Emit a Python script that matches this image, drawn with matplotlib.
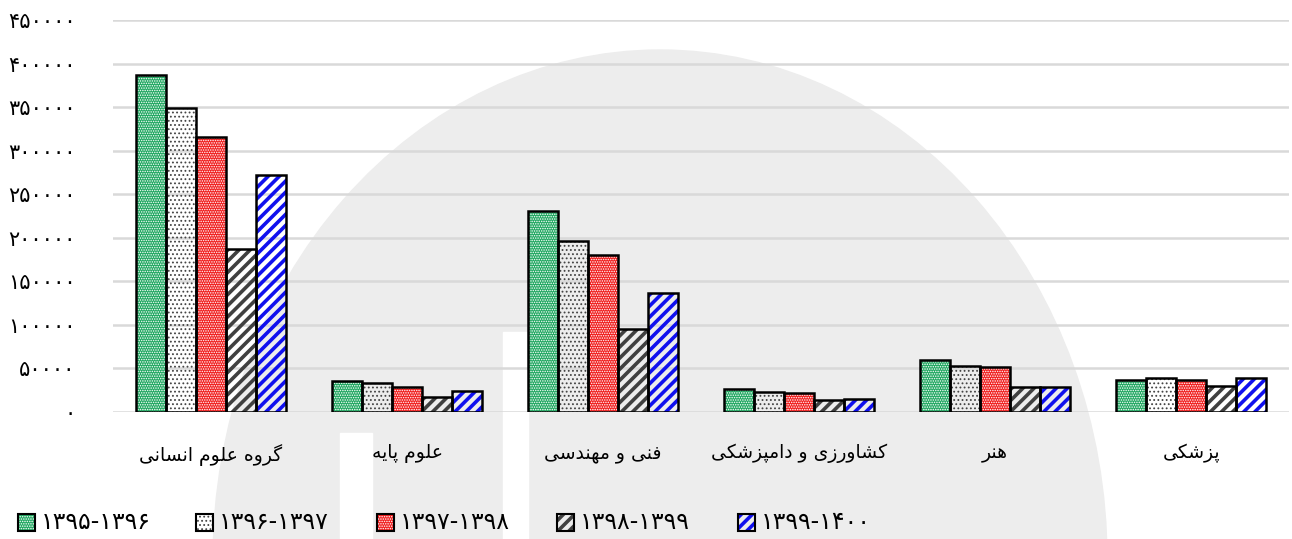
import numpy as np
import matplotlib
matplotlib.use("Agg")
import matplotlib.pyplot as plt
from matplotlib.patches import Ellipse, Rectangle

# --- data ---
categories = ["گروه علوم انسانی", "علوم پایه", "فنی و مهندسی",
              "کشاورزی و دامپزشکی", "هنر", "پزشکی"]
series = ["۱۳۹۵-۱۳۹۶", "۱۳۹۶-۱۳۹۷", "۱۳۹۷-۱۳۹۸", "۱۳۹۸-۱۳۹۹", "۱۳۹۹-۱۴۰۰"]
v1395 = [386500, 35500, 230500, 26400, 59600, 36700]
v1396 = [348600, 33300, 196100, 22900, 52800, 39000]
v1397 = [315400, 28700, 180000, 21800, 51600, 36700]
v1398 = [186900, 17200, 95200, 13800, 28700, 29800]
v1399 = [271800, 24100, 136500, 14900, 28700, 39000]
yticks = [0, 50000, 100000, 150000, 200000, 250000, 300000, 350000, 400000, 450000]

# simple arabic/persian shaping (matplotlib has no text shaping)
forms = {
    'ا': ('\uFE8D', '\uFE8E', None, None),
    'د': ('\uFEA9', '\uFEAA', None, None),
    'ر': ('\uFEAD', '\uFEAE', None, None),
    'ز': ('\uFEAF', '\uFEB0', None, None),
    'و': ('\uFEED', '\uFEEE', None, None),
    'پ': ('\uFB56', '\uFB57', '\uFB58', '\uFB59'),
    'س': ('\uFEB1', '\uFEB2', '\uFEB3', '\uFEB4'),
    'ش': ('\uFEB5', '\uFEB6', '\uFEB7', '\uFEB8'),
    'ع': ('\uFEC9', '\uFECA', '\uFECB', '\uFECC'),
    'ف': ('\uFED1', '\uFED2', '\uFED3', '\uFED4'),
    'ک': ('\uFB8E', '\uFB8F', '\uFB90', '\uFB91'),
    'گ': ('\uFB92', '\uFB93', '\uFB94', '\uFB95'),
    'ل': ('\uFEDD', '\uFEDE', '\uFEDF', '\uFEE0'),
    'م': ('\uFEE1', '\uFEE2', '\uFEE3', '\uFEE4'),
    'ن': ('\uFEE5', '\uFEE6', '\uFEE7', '\uFEE8'),
    'ه': ('\uFEE9', '\uFEEA', '\uFEEB', '\uFEEC'),
    'ی': ('\uFBFC', '\uFBFD', '\uFBFE', '\uFBFF'),
}


def shape(s):
    out = []
    for i, c in enumerate(s):
        if c not in forms:
            out.append(c)
            continue
        prev = s[i - 1] if i > 0 else ''
        nxt = s[i + 1] if i < len(s) - 1 else ''
        jp = prev in forms and forms[prev][2] is not None
        jn = forms[c][2] is not None and nxt in forms
        f = forms[c]
        if jp and jn:
            out.append(f[3])
        elif jp:
            out.append(f[1])
        elif jn:
            out.append(f[2])
        else:
            out.append(f[0])
    return ''.join(out)[::-1]


def fa_num(n):
    return str(n).translate(str.maketrans('0123456789', '۰۱۲۳۴۵۶۷۸۹'))


plt.rcParams['font.family'] = ['DejaVu Sans']

W, H = 1292, 539
fig = plt.figure(figsize=(W / 100, H / 100), dpi=100)

# watermark in the background
wm = '#ededed'
fig.patches.append(Ellipse((660 / W, 1 - 560 / H), 894 / W, 1020 / H,
                           transform=fig.transFigure, color=wm, zorder=-10))
for (x0, y0, x1, y1) in [(503, 332, 528, 539), (340, 433, 372, 539)]:
    fig.patches.append(Rectangle((x0 / W, 1 - y1 / H), (x1 - x0) / W, (y1 - y0) / H,
                                 transform=fig.transFigure, color='white', zorder=-9))

ax = fig.add_axes([113 / W, 1 - 412 / H, (1289 - 113) / W, (412 - 20) / H])
ax.set_facecolor('none')

values = [v1395, v1396, v1397, v1398, v1399]
styles = [
    dict(face='#22a862', hatch='.......', hc='white', lw=0.7),
    dict(face='none', hatch='....', hc='#444444', lw=0.8),
    dict(face='#f02020', hatch='.......', hc='white', lw=0.7),
    dict(face='none', hatch='///', hc='#404040', lw=2.6),
    dict(face='none', hatch='///', hc='#1010ee', lw=2.6),
]
x = np.arange(len(categories))
bw = 0.153
leg_x = [18, 196, 377, 557, 738]
for i, (vals, st) in enumerate(zip(values, styles)):
    pos = x + (i - 2) * bw
    plt.rcParams['hatch.linewidth'] = st['lw']
    ax.bar(pos, vals, bw, color=st['face'], hatch=st['hatch'], edgecolor=st['hc'],
           linewidth=0, zorder=3)
    ax.bar(pos, vals, bw, fill=False, edgecolor='black', linewidth=1.8, zorder=4)
    # legend entry drawn by hand so each swatch keeps its own hatch width
    lx = leg_x[i]
    fig.patches.append(Rectangle((lx / W, 1 - 531 / H), 17 / W, 17 / H,
                                 transform=fig.transFigure, facecolor=st['face'],
                                 hatch=st['hatch'], edgecolor=st['hc'], linewidth=0))
    fig.patches.append(Rectangle((lx / W, 1 - 531 / H), 17 / W, 17 / H,
                                 transform=fig.transFigure, fill=False,
                                 edgecolor='black', linewidth=1.5))
    fig.text((lx + 23) / W, 1 - 522 / H, series[i], fontsize=17,
             ha='left', va='center')

ax.set_xlim(-0.5, len(categories) - 0.5)
ax.set_ylim(0, 450000)
ax.set_yticks(yticks)
ax.set_yticklabels([fa_num(t) for t in yticks], fontsize=15)
ax.set_xticks(x)
ax.set_xticklabels([shape(c) for c in categories], fontsize=13.5)
ax.tick_params(length=0)
ax.tick_params(axis='x', pad=23)
ax.tick_params(axis='y', pad=27)
ax.grid(axis='y', color='#d9d9d9', linewidth=1.8, zorder=0)
for s in ax.spines.values():
    s.set_visible(False)

fig.savefig('out.png', dpi=100)
